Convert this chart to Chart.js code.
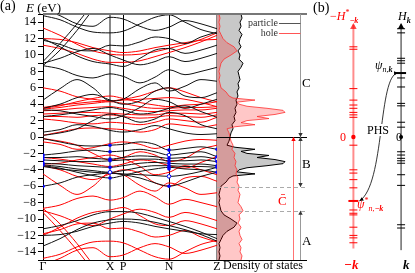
<!DOCTYPE html>
<html>
<head>
<meta charset="utf-8">
<script src="https://cdn.jsdelivr.net/npm/chart.js@4.4.1/dist/chart.umd.min.js"></script>
<style>
body { margin: 0; width: 415px; height: 273px; position: relative; overflow: hidden; background: #fff; font-family: "Liberation Serif", serif; }
.box { position: absolute; top: 0; height: 273px; }
.t { position: absolute; white-space: nowrap; line-height: 1; font-size: 12px; color: #000; }
.r { color: #f00; }
sub, sup { font-size: 8px; line-height: 0; }
</style>
</head>
<body>
<div class="box" style="left:0;width:222px"><canvas id="bands"></canvas></div>
<div class="box" style="left:210px;width:105px"><canvas id="dos"></canvas></div>
<div class="box" style="left:310px;width:105px"><canvas id="phs"></canvas></div>

<span class="t" style="left:0;top:-1px;font-size:14px">(a)</span>
<span class="t" style="left:26px;top:1px;font-size:13px"><i>E</i> (eV)</span>
<span class="t" style="left:223px;top:259px">Density of states</span>
<span class="t" style="left:302px;top:76px;font-size:13px">C</span>
<span class="t" style="left:302px;top:157px;font-size:13px">B</span>
<span class="t" style="left:302px;top:234px;font-size:13px">A</span>
<span class="t r" style="left:278px;top:194px;font-size:13px">C&#772;</span>

<span class="t" style="left:313px;top:1px;font-size:14px">(b)</span>
<span class="t r" style="left:330px;top:10px">−<i>H</i><sup>*</sup><sub><b><i>−k</i></b></sub></span>
<span class="t" style="left:398px;top:10px"><i>H</i><sub><b><i>k</i></b></sub></span>
<span class="t" style="left:375px;top:59px"><i>ψ</i><sub><i>n</i>,<b><i>k</i></b></sub></span>
<span class="t" style="left:366px;top:124px;background:#fff;padding:0 1px">PHS</span>
<span class="t" style="left:396px;top:131px">0</span>
<span class="t r" style="left:340px;top:131px">0</span>
<span class="t r" style="left:357px;top:198px"><i>ψ</i><sup>*</sup><sub><i>n</i>,<b><i>−k</i></b></sub></span>
<span class="t r" style="left:344px;top:258px;font-size:13px"><b><i>−k</i></b></span>
<span class="t" style="left:403px;top:258px;font-size:13px"><b><i>k</i></b></span>

<script>
// k path (distance along Γ-X-P-N-Z), sample points for the bands
const kPts = [0, 17, 34, 50, 67, 80, 97, 112, 126, 142, 158, 174];
const kTicks = [0, 67, 80, 126, 174];
const kLabels = ['Γ', 'X', 'P', 'N', 'Z'];

// particle bands (eV) at kPts; hole bands are -E (particle-hole symmetry)
const valenceBands = [
  [-0.2, -0.6, -1.0, -1.1, -1.0, -0.9, -0.6, -0.9, -1.6, -1.4, -1.2, -1.5],
  [-2.2, -2.0, -1.7, -1.6, -1.8, -1.7, -1.5, -1.8, -2.2, -2.0, -1.8, -2.4],
  [-2.5, -2.5, -2.4, -2.6, -2.7, -2.5, -2.3, -2.4, -2.6, -2.5, -2.4, -2.7],
  [-2.8, -2.9, -3.0, -3.0, -2.9, -2.8, -2.7, -2.7, -2.9, -2.9, -2.8, -3.0],
  [-3.2, -3.3, -3.5, -3.6, -3.7, -3.5, -3.2, -3.1, -3.2, -3.3, -3.3, -3.5],
  [-3.4, -3.6, -3.9, -4.1, -4.3, -4.1, -3.7, -3.5, -3.5, -3.6, -3.6, -3.7],
  [-3.5, -3.8, -4.3, -4.7, -5.0, -4.7, -4.2, -3.9, -3.7, -3.9, -4.0, -4.3],
  [-6.0, -5.6, -4.9, -4.6, -4.4, -4.6, -5.0, -5.6, -6.0, -5.5, -4.8, -4.3],
  [-3.6, -3.9, -4.1, -4.3, -4.4, -4.5, -4.6, -4.7, -4.8, -4.6, -4.2, -3.7],
  [-11.2, -10.8, -10.2, -9.5, -9.1, -9.1, -9.3, -9.8, -10.3, -10.9, -11.6, -12.4],
  [-13.3, -12.4, -11.3, -10.5, -10.1, -10.0, -10.1, -10.4, -10.8, -11.3, -11.9, -12.7],
  [-12.0, -11.9, -11.5, -10.9, -10.5, -10.3, -10.5, -10.9, -11.2, -11.5, -11.8, -11.9]
];
const conductionBands = [
  [0.6, 0.9, 1.5, 1.3, 0.8, 0.6, 0.9, 1.4, 1.0, 0.5, 0.3, 0.4],
  [0.2, 0.5, 1.0, 2.0, 2.8, 2.5, 1.8, 2.2, 3.0, 2.6, 1.5, 1.0],
  [2.5, 2.7, 3.0, 3.3, 3.6, 3.3, 2.8, 3.0, 3.5, 3.8, 3.1, 2.4],
  [3.3, 3.2, 2.8, 2.5, 2.2, 2.6, 3.6, 4.6, 4.3, 3.5, 4.0, 4.6],
  [3.5, 4.0, 4.8, 5.2, 4.5, 4.0, 4.4, 5.6, 6.0, 5.0, 4.8, 5.4],
  [4.5, 5.9, 7.0, 6.0, 4.4, 4.6, 5.9, 6.6, 5.6, 6.2, 7.0, 6.8],
  [8.7, 8.3, 7.5, 7.2, 7.7, 7.4, 6.6, 7.3, 8.2, 7.6, 8.0, 8.5],
  [9.0, 9.6, 10.4, 10.8, 10.0, 9.4, 8.8, 9.2, 9.8, 9.2, 9.6, 10.2],
  [12.0, 11.0, 9.9, 9.2, 8.9, 8.6, 9.6, 10.6, 10.8, 10.2, 10.6, 11.2],
  [11.8, 11.3, 10.6, 10.5, 11.2, 11.1, 11.6, 12.2, 12.0, 11.4, 12.2, 12.8],
  [8.7, 10.6, 13.0, 15.5, 17.5, 17.5, 17.5, 17.5, 17.5, 17.5, 17.5, 17.5],
  [9.2, 11.4, 13.8, 16.2, 18.0, 18.0, 18.0, 18.0, 18.0, 18.0, 18.0, 18.0],
  [15.6, 14.8, 13.8, 13.5, 14.6, 14.4, 13.5, 13.0, 13.4, 14.2, 13.8, 13.2],
  [14.8, 14.3, 13.4, 12.8, 12.7, 12.9, 13.8, 14.6, 14.9, 14.0, 13.1, 12.6]
];

// blue markers at high-symmetry points (eV)
const dotsFilledK = [0,0,0,0,0,0, 67,67,67,67,67,67, 126,126,126,126,126,126,126,126, 174,174,174,174,174,174];
const dotsFilledE = [-2.2,-2.5,-2.8,-3.2,-3.4,-6.0, -1.0,-1.8,-2.7,-2.9,-3.7,-5.0,
  -1.6,-2.6,-2.9,-3.2,-3.5,-3.7,-3.9,-6.0, -1.5,-2.4,-3.0,-3.5,-3.7,-4.3];
const dotsOpenK = [67, 126, 126, 174];
const dotsOpenE = [-4.3, -2.2, -4.8, -2.7];

// density of states: energy grid and particle DOS (hole DOS mirrors it)
const dosE = [-15,-14.5,-14,-13.5,-13,-12.5,-12,-11.5,-11,-10.5,-10,-9.5,-9,-8.5,-8,-7.5,-7,-6.5,-6,-5.5,
  -5,-4.75,-4.5,-4.25,-4,-3.75,-3.5,-3.25,-3,-2.75,-2.5,-2.25,-2,-1.75,-1.5,-1.25,-1,-0.5,
  0,0.5,1,1.5,2,2.5,3,3.5,4,4.5,5,5.5,6,6.5,7,7.5,8,8.5,9,9.5,10,10.5,11,11.5,12,12.5,13,13.5,14,14.5,15];
const dosParticle = [2,3,2,3,2,4,6,10,17,20,14,7,4,3,2,3,2,3,4,9,
  12,16,38,20,22,30,50,66,68,58,40,52,30,24,38,18,10,12,
  13,14,16,15,18,17,19,18,20,19,21,20,22,21,23,22,21,24,26,22,23,21,24,22,23,25,22,24,23,25,24];

// energy windows marked on the DOS panel
const regionC = [0, 15];
const regionB = [-6.1, 0];
const regionA = [-15, -9];
const regionCbar = [-15, 0];

// panel (b): eigenvalue ticks
const eigK = [13.2, 12.7, 9.6, 9.3, 9.0, 7.2, 6.1, 4.1, 3.8, 1.8, 1.2, -1.8, -2.2, -2.6, -2.9, -3.2, -4.6, -5.9, -10.7, -11.1];
const eigMinusK = [11.0, 10.7, 5.9, 4.5, 3.9, 3.5, 3.0, 2.7, 2.4, -1.0, -4.0, -4.4, -5.2, -6.2, -8.9, -9.3, -9.5, -11.0, -12.0, -12.3, -12.9];
const psiE = 7.8;
const psiStarE = -7.8;

Chart.defaults.font.family = '"Liberation Serif", serif';
Chart.defaults.color = '#000';
Chart.defaults.animation = false;

const pts = (xs, ys) => ys.map((y, i) => ({ x: xs[i], y: y }));
const noPlugins = { legend: { display: false }, tooltip: { enabled: false } };

// ---------- band structure ----------
const bandSets = [];
bandSets.push({ data: pts(dotsFilledK, dotsFilledE), showLine: false, pointRadius: 1.8,
  pointBackgroundColor: '#0000ff', pointBorderColor: '#0000ff', pointBorderWidth: 0 });
bandSets.push({ data: pts(dotsOpenK, dotsOpenE), showLine: false, pointRadius: 1.8,
  pointBackgroundColor: '#fff', pointBorderColor: '#0000ff', pointBorderWidth: 1 });
[...valenceBands, ...conductionBands].forEach(b => {
  bandSets.push({ data: pts(kPts, b), borderColor: '#111', borderWidth: 1, pointRadius: 0, cubicInterpolationMode: 'monotone' });
});
[...valenceBands, ...conductionBands].forEach(b => {
  bandSets.push({ data: pts(kPts, b.map(e => -e)), borderColor: '#ff0000', borderWidth: 1, pointRadius: 0, cubicInterpolationMode: 'monotone' });
});

const topLine = {
  id: 'topLine',
  afterDraw(chart) {
    const { ctx, chartArea: a } = chart;
    ctx.save();
    ctx.strokeStyle = '#777';
    ctx.lineWidth = 2;
    ctx.beginPath(); ctx.moveTo(a.left, a.top); ctx.lineTo(a.right, a.top); ctx.stroke();
    ctx.restore();
  }
};

new Chart(document.getElementById('bands'), {
  type: 'line',
  data: { datasets: bandSets },
  options: {
    responsive: true, maintainAspectRatio: false,
    layout: { padding: { top: 14, right: 5, left: 0, bottom: 0 } },
    plugins: noPlugins,
    scales: {
      x: {
        type: 'linear', min: 0, max: 174,
        afterBuildTicks: s => { s.ticks = kTicks.map(v => ({ value: v })); },
        afterFit: s => { s.height = 13; s.paddingLeft = 0; s.paddingRight = 0; },
        ticks: { autoSkip: false, maxRotation: 0, padding: 0, font: { size: 12 },
          callback: (v, i) => kLabels[i] },
        grid: { drawTicks: false,
          color: c => ['#000', '#888', '#000', '#000', '#888'][c.index],
          lineWidth: c => [1, 2, 1, 1, 2][c.index] },
        border: { color: '#000', width: 1 }
      },
      y: {
        type: 'linear', min: -15, max: 15,
        afterFit: s => { s.width = 43; s.paddingTop = 0; s.paddingBottom = 0; },
        ticks: { stepSize: 1, autoSkip: false, padding: 2, font: { size: 12 },
          callback: v => (v % 2 !== 0) ? '' : (v < 0 ? '−' + (-v) : String(v)) },
        grid: { drawOnChartArea: false, tickLength: 5, color: '#000' },
        border: { color: '#000', width: 1 }
      }
    }
  },
  plugins: [topLine]
});

// ---------- density of states ----------
function arrowHead(ctx, x, y, dir, size) {
  ctx.beginPath();
  ctx.moveTo(x, y);
  ctx.lineTo(x - size * 0.55, y - dir * size);
  ctx.lineTo(x + size * 0.55, y - dir * size);
  ctx.closePath();
  ctx.fill();
}

const dosDecor = {
  id: 'dosDecor',
  afterDraw(chart) {
    const { ctx, chartArea: a, scales } = chart;
    const Y = v => scales.y.getPixelForValue(v);
    const right = a.right + 2;
    ctx.save();
    // frame
    ctx.strokeStyle = '#777'; ctx.lineWidth = 2;
    ctx.beginPath(); ctx.moveTo(a.left, a.top); ctx.lineTo(right, a.top); ctx.stroke();
    ctx.strokeStyle = '#000'; ctx.lineWidth = 1;
    ctx.beginPath(); ctx.moveTo(a.left, a.bottom + 0.5); ctx.lineTo(right, a.bottom + 0.5); ctx.stroke();
    ctx.beginPath(); ctx.moveTo(a.left, Math.round(Y(0)) + 0.5); ctx.lineTo(right, Math.round(Y(0)) + 0.5); ctx.stroke();
    // dashed window edges
    ctx.strokeStyle = '#aaa'; ctx.setLineDash([4, 3]);
    [regionB[0], regionA[1]].forEach(e => {
      ctx.beginPath(); ctx.moveTo(a.left, Math.round(Y(e)) + 0.5); ctx.lineTo(right, Math.round(Y(e)) + 0.5); ctx.stroke();
    });
    ctx.setLineDash([]);
    // gray window arrows
    const xa = a.right - 4.5;
    ctx.strokeStyle = '#999'; ctx.fillStyle = '#333'; ctx.lineWidth = 1;
    [[regionC, false, true], [regionB, true, true], [regionA, true, false]].forEach(([r, headTop, headBottom]) => {
      ctx.beginPath(); ctx.moveTo(xa, Y(r[1])); ctx.lineTo(xa, Y(r[0])); ctx.stroke();
      if (headBottom) arrowHead(ctx, xa, Y(r[0]), 1, 4);
      if (headTop) arrowHead(ctx, xa, Y(r[1]), -1, 4);
    });
    // red hole window arrow
    const xr = a.right - 11.5;
    ctx.strokeStyle = 'rgba(255,0,0,0.55)'; ctx.fillStyle = '#f00';
    ctx.beginPath(); ctx.moveTo(xr, Y(regionCbar[0])); ctx.lineTo(xr, Y(regionCbar[1])); ctx.stroke();
    arrowHead(ctx, xr, Y(regionCbar[1]), -1, 4);
    // legend
    ctx.font = '10px "Liberation Serif", serif';
    ctx.fillStyle = '#333'; ctx.textAlign = 'right'; ctx.textBaseline = 'middle';
    ctx.fillText('particle', a.right - 27, a.top + 9);
    ctx.fillText('hole', a.right - 27, a.top + 19);
    ctx.lineWidth = 1;
    ctx.strokeStyle = '#555';
    ctx.beginPath(); ctx.moveTo(a.right - 26, a.top + 9.5); ctx.lineTo(xa, a.top + 9.5); ctx.stroke();
    ctx.strokeStyle = '#f55';
    ctx.beginPath(); ctx.moveTo(a.right - 26, a.top + 19.5); ctx.lineTo(xa, a.top + 19.5); ctx.stroke();
    ctx.restore();
  }
};

new Chart(document.getElementById('dos'), {
  type: 'line',
  data: { datasets: [
    { data: dosE.map((e, i) => ({ x: dosParticle[i], y: -e })).reverse(),
      borderColor: '#ff3030', borderWidth: 0.8, backgroundColor: 'rgba(255,0,0,0.22)',
      fill: 'origin', pointRadius: 0, order: 1 },
    { data: pts(dosParticle, dosE),
      borderColor: '#000', borderWidth: 1, backgroundColor: '#c8c8c8',
      fill: 'origin', pointRadius: 0, order: 2 }
  ] },
  options: {
    indexAxis: 'y',
    responsive: true, maintainAspectRatio: false,
    layout: { padding: { top: 14, bottom: 13, left: 7, right: 10 } },
    plugins: noPlugins,
    scales: {
      x: { type: 'linear', min: 0, max: 88, display: false },
      y: { type: 'linear', min: -15, max: 15, display: false }
    }
  },
  plugins: [dosDecor]
});

// ---------- panel (b) ----------
const redAxisX = 42, blackAxisX = 97;
const col = (x, ys) => ys.map(y => ({ x: x, y: y }));

const phsDecor = {
  id: 'phsDecor',
  afterDatasetsDraw(chart) {
    const { ctx, scales } = chart;
    const X = v => scales.x.getPixelForValue(v), Y = v => scales.y.getPixelForValue(v);
    ctx.save();
    ctx.fillStyle = 'rgba(255,0,0,0.7)';
    arrowHead(ctx, X(redAxisX), Y(13.9), -1, 6);
    ctx.fillStyle = '#000';
    arrowHead(ctx, X(blackAxisX), Y(13.9), -1, 6);
    // PHS curved double arrow between psi and psi*
    const x0 = X(blackAxisX) - 3, y0 = Y(psiE);
    const x1 = X(redAxisX) + 6, y1 = Y(psiStarE);
    const c1x = x0 - 20, c1y = y0 + 1, c2x = x0 - 13, c2y = y1 - 16;
    ctx.strokeStyle = '#000'; ctx.lineWidth = 0.8;
    ctx.beginPath(); ctx.moveTo(x0, y0); ctx.bezierCurveTo(c1x, c1y, c2x, c2y, x1, y1); ctx.stroke();
    const head = (x, y, dx, dy) => {
      const L = Math.hypot(dx, dy), ux = dx / L, uy = dy / L, s = 4;
      ctx.beginPath();
      ctx.moveTo(x, y);
      ctx.lineTo(x - ux * s - uy * s * 0.5, y - uy * s + ux * s * 0.5);
      ctx.lineTo(x - ux * s + uy * s * 0.5, y - uy * s - ux * s * 0.5);
      ctx.closePath(); ctx.fill();
    };
    head(x0, y0, x0 - c1x, y0 - c1y);
    head(x1, y1, x1 - c2x, y1 - c2y);
    ctx.restore();
  }
};

new Chart(document.getElementById('phs'), {
  type: 'line',
  data: { datasets: [
    { data: col(redAxisX, [0]), showLine: false, pointRadius: 2.2, pointBackgroundColor: '#f00', pointBorderWidth: 0 },
    { data: col(blackAxisX, [0]), showLine: false, pointRadius: 2, pointBackgroundColor: '#000', pointBorderWidth: 0 },
    { data: col(redAxisX, [psiStarE]), showLine: false, pointStyle: 'line', pointRadius: 5, pointBorderColor: '#f00', pointBorderWidth: 2 },
    { data: col(blackAxisX, [psiE]), showLine: false, pointStyle: 'line', pointRadius: 5, pointBorderColor: '#000', pointBorderWidth: 2 },
    { data: col(redAxisX, eigMinusK), showLine: false, pointStyle: 'line', pointRadius: 4, pointBorderColor: '#f00', pointBorderWidth: 1 },
    { data: col(blackAxisX, eigK), showLine: false, pointStyle: 'line', pointRadius: 4, pointBorderColor: '#000', pointBorderWidth: 1 },
    { data: col(redAxisX, [-13.6, 13.7]), borderColor: 'rgba(255,0,0,0.45)', borderWidth: 2, pointRadius: 0 },
    { data: col(blackAxisX, [-13.8, 13.7]), borderColor: '#222', borderWidth: 1, pointRadius: 0 }
  ] },
  options: {
    responsive: true, maintainAspectRatio: false,
    layout: { padding: { top: 14, bottom: 13, left: 0, right: 0 } },
    plugins: noPlugins,
    scales: {
      x: { type: 'linear', min: 0, max: 105, display: false },
      y: { type: 'linear', min: -15, max: 15, display: false }
    }
  },
  plugins: [phsDecor]
});
</script>
</body>
</html>
